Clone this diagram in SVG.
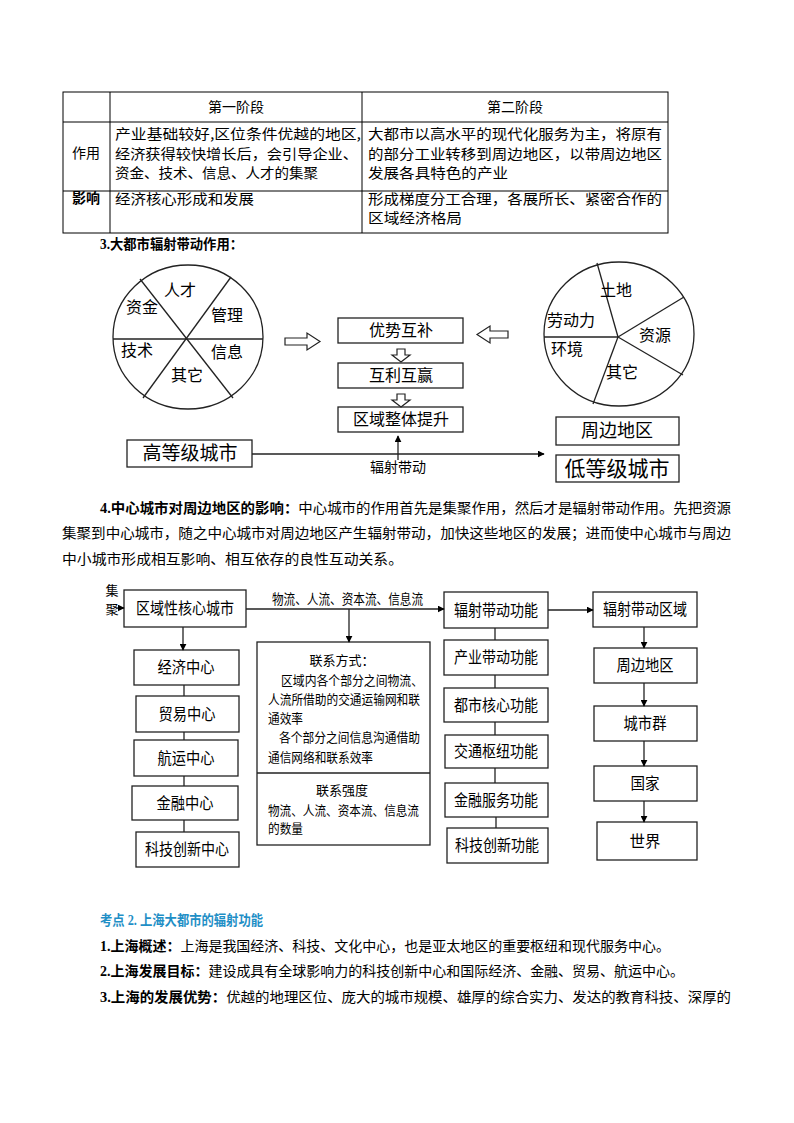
<svg xmlns="http://www.w3.org/2000/svg" width="794" height="1123" viewBox="0 0 794 1123">
<defs>
<style>
text{font-family:"Liberation Serif","Noto Sans CJK SC",serif;fill:#000;}
.t{font-size:14px;}
.b{font-weight:bold;}
.s{font-family:"Noto Sans CJK SC","Liberation Sans",sans-serif;}
.c{text-anchor:middle;}
.ln{stroke:#000;stroke-width:1;fill:none;}
.bx{fill:#fff;stroke:#222;stroke-width:1.3;}
.dl{stroke:#222;stroke-width:1.3;fill:none;}
.ha{fill:#fff;stroke:#222;stroke-width:1.2;}
.lb{font-size:16px;}
.bl{font-size:16px;}
.sm{font-size:13px;}
</style>
<marker id="ah" viewBox="0 0 10 10" refX="9" refY="5" markerWidth="7" markerHeight="7" markerUnits="userSpaceOnUse" orient="auto"><path d="M0,0 L10,5 L0,10 z" fill="#000"/></marker>
</defs>
<rect width="794" height="1123" fill="#fff"/>

<!-- Table -->
<g id="table">
<rect x="63" y="92" width="605" height="141" class="ln"/>
<line x1="110" y1="92" x2="110" y2="233" class="ln"/>
<line x1="362" y1="92" x2="362" y2="233" class="ln"/>
<line x1="63" y1="122" x2="668" y2="122" class="ln"/>
<line x1="63" y1="191" x2="668" y2="191" class="ln"/>
<text class="t s c" x="236" y="112">第一阶段</text>
<text class="t s c" x="515" y="112">第二阶段</text>
<text class="t s c" x="86" y="158">作用</text>
<text class="t s c" x="86" y="203" style="font-weight:600">影响</text>
<text class="t s" x="115" y="139" textLength="246" lengthAdjust="spacingAndGlyphs">产业基础较好,区位条件优越的地区,</text>
<text class="t s" x="115" y="159" textLength="243" lengthAdjust="spacingAndGlyphs">经济获得较快增长后，会引导企业、</text>
<text class="t s" x="115" y="178" textLength="203" lengthAdjust="spacingAndGlyphs">资金、技术、信息、人才的集聚</text>
<text class="t s" x="368" y="139" textLength="294" lengthAdjust="spacingAndGlyphs">大都市以高水平的现代化服务为主，将原有</text>
<text class="t s" x="368" y="159" textLength="294" lengthAdjust="spacingAndGlyphs">的部分工业转移到周边地区，以带周边地区</text>
<text class="t s" x="368" y="178" textLength="140" lengthAdjust="spacingAndGlyphs">发展各具特色的产业</text>
<text class="t s" x="115" y="204" textLength="139" lengthAdjust="spacingAndGlyphs">经济核心形成和发展</text>
<text class="t s" x="368" y="204" textLength="294" lengthAdjust="spacingAndGlyphs">形成梯度分工合理，各展所长、紧密合作的</text>
<text class="t s" x="368" y="223" textLength="94" lengthAdjust="spacingAndGlyphs">区域经济格局</text>
</g>

<text class="t b" x="100" y="249" textLength="143" lengthAdjust="spacingAndGlyphs">3.大都市辐射带动作用：</text>

<!-- Diagram 3 -->
<g id="pie-left">
<ellipse cx="188" cy="337" rx="75" ry="72" class="dl"/>
<line x1="113" y1="339" x2="263" y2="339" class="dl"/>
<line x1="140" y1="279" x2="233" y2="398" class="dl"/>
<line x1="231" y1="277" x2="143" y2="398" class="dl"/>
<text class="lb s c" x="180" y="296">人才</text>
<text class="lb s c" x="142" y="313">资金</text>
<text class="lb s c" x="227" y="321">管理</text>
<text class="lb s c" x="137" y="356">技术</text>
<text class="lb s c" x="227" y="358">信息</text>
<text class="lb s c" x="187" y="381">其它</text>
</g>
<g id="pie-right">
<ellipse cx="619" cy="334" rx="75" ry="72" class="dl"/>
<line x1="618" y1="337" x2="597" y2="263" class="dl"/>
<line x1="618" y1="337" x2="684" y2="297" class="dl"/>
<line x1="618" y1="337" x2="683" y2="375" class="dl"/>
<line x1="618" y1="337" x2="593" y2="404" class="dl"/>
<line x1="618" y1="337" x2="544" y2="337" class="dl"/>
<text class="lb s c" x="616" y="296">土地</text>
<text class="lb s c" x="571" y="326">劳动力</text>
<text class="lb s c" x="655" y="341">资源</text>
<text class="lb s c" x="567" y="355">环境</text>
<text class="lb s c" x="622" y="378">其它</text>
</g>
<g id="box-youshi"><rect x="338" y="318" width="125" height="25" class="bx"/><text class="lb s c" x="401" y="336">优势互补</text></g>
<g id="box-huli"><rect x="338" y="363" width="125" height="25" class="bx"/><text class="lb s c" x="401" y="381">互利互赢</text></g>
<g id="box-quyu"><rect x="338" y="407" width="125" height="25" class="bx"/><text class="lb s c" x="401" y="425">区域整体提升</text></g>
<g id="box-gaodeng"><rect x="127" y="440" width="125" height="27" class="bx"/><text class="s c" style="font-size:19px" x="190" y="460">高等级城市</text></g>
<g id="box-zhoubian1"><rect x="556" y="417" width="123" height="28" class="bx"/><text class="s c" style="font-size:18px" x="617" y="437">周边地区</text></g>
<g id="box-dideng"><rect x="556" y="455" width="123" height="27" class="bx"/><text class="s c" style="font-size:21px" x="617" y="476">低等级城市</text></g>
<g id="connectors3">
<polygon class="ha" points="285,338 307,338 307,333 320,341.5 307,350 307,345 285,345"/>
<polygon class="ha" points="508,331 490,331 490,326 477,334.5 490,343 490,338 508,338"/>
<polygon class="ha" points="397,349 405,349 405,355 410,355 401,362 392,355 397,355"/>
<polygon class="ha" points="397,394 405,394 405,400 410,400 401,407 392,400 397,400"/>
<line x1="252" y1="454" x2="544" y2="454" class="dl" marker-end="url(#ah)"/>
<line x1="398" y1="460" x2="398" y2="436" class="dl" marker-end="url(#ah)"/>
<text class="t s c" x="398" y="472">辐射带动</text>
</g>

<!-- Paragraph 4 -->
<text class="t" x="100" y="513" textLength="631" lengthAdjust="spacingAndGlyphs"><tspan class="b">4.中心城市对周边地区的影响：</tspan>中心城市的作用首先是集聚作用，然后才是辐射带动作用。先把资源</text>
<text class="t" x="62" y="538" textLength="669" lengthAdjust="spacingAndGlyphs">集聚到中心城市，随之中心城市对周边地区产生辐射带动，加快这些地区的发展；进而使中心城市与周边</text>
<text class="t" x="62" y="564" textLength="341" lengthAdjust="spacingAndGlyphs">中小城市形成相互影响、相互依存的良性互动关系。</text>

<!-- Diagram 4 -->
<g id="jiju"><text class="s c" style="font-size:13px" x="112" y="595">集</text><text class="s c" style="font-size:13px" x="112" y="614">聚</text></g>
<g id="n-hexin"><rect x="124" y="590" width="122" height="37" class="bx"/><text class="bl s c" x="185" y="614" textLength="98" lengthAdjust="spacingAndGlyphs">区域性核心城市</text></g>
<g id="n-jingji"><rect x="134" y="650" width="105" height="35" class="bx"/><text class="bl s c" x="186" y="673" textLength="57" lengthAdjust="spacingAndGlyphs">经济中心</text></g>
<g id="n-maoyi"><rect x="136" y="696" width="103" height="36" class="bx"/><text class="bl s c" x="187" y="720" textLength="57" lengthAdjust="spacingAndGlyphs">贸易中心</text></g>
<g id="n-hangyun"><rect x="134" y="740" width="104" height="36" class="bx"/><text class="bl s c" x="186" y="764" textLength="57" lengthAdjust="spacingAndGlyphs">航运中心</text></g>
<g id="n-jinrong"><rect x="132" y="786" width="106" height="34" class="bx"/><text class="bl s c" x="185" y="809" textLength="57" lengthAdjust="spacingAndGlyphs">金融中心</text></g>
<g id="n-keji"><rect x="136" y="832" width="103" height="35" class="bx"/><text class="bl s c" x="187" y="855" textLength="84" lengthAdjust="spacingAndGlyphs">科技创新中心</text></g>
<g id="n-lianxi">
<rect x="257" y="642" width="173" height="203" class="bx"/>
<line x1="257" y1="773" x2="430" y2="773" class="dl"/>
<text class="sm s c" x="342" y="665">联系方式：</text>
<text class="sm s" x="281" y="685" textLength="142" lengthAdjust="spacingAndGlyphs">区域内各个部分之间物流、</text>
<text class="sm s" x="268" y="704" textLength="152" lengthAdjust="spacingAndGlyphs">人流所借助的交通运输网和联</text>
<text class="sm s" x="268" y="723" textLength="35" lengthAdjust="spacingAndGlyphs">通效率</text>
<text class="sm s" x="279" y="742" textLength="141" lengthAdjust="spacingAndGlyphs">各个部分之间信息沟通借助</text>
<text class="sm s" x="268" y="762" textLength="105" lengthAdjust="spacingAndGlyphs">通信网络和联系效率</text>
<text class="sm s c" x="342" y="795">联系强度</text>
<text class="sm s" x="268" y="815" textLength="151" lengthAdjust="spacingAndGlyphs">物流、人流、资本流、信息流</text>
<text class="sm s" x="268" y="833" textLength="35" lengthAdjust="spacingAndGlyphs">的数量</text>
</g>
<g id="n-fushe"><rect x="444" y="592" width="104" height="36" class="bx"/><text class="bl s c" x="496" y="616" textLength="84" lengthAdjust="spacingAndGlyphs">辐射带动功能</text></g>
<g id="n-chanye"><rect x="444" y="640" width="104" height="35" class="bx"/><text class="bl s c" x="496" y="663" textLength="84" lengthAdjust="spacingAndGlyphs">产业带动功能</text></g>
<g id="n-dushi"><rect x="444" y="688" width="104" height="34" class="bx"/><text class="bl s c" x="496" y="711" textLength="84" lengthAdjust="spacingAndGlyphs">都市核心功能</text></g>
<g id="n-jiaotong"><rect x="445" y="735" width="103" height="33" class="bx"/><text class="bl s c" x="496" y="757" textLength="84" lengthAdjust="spacingAndGlyphs">交通枢纽功能</text></g>
<g id="n-jinrongfw"><rect x="445" y="783" width="103" height="34" class="bx"/><text class="bl s c" x="496" y="806" textLength="84" lengthAdjust="spacingAndGlyphs">金融服务功能</text></g>
<g id="n-kejign"><rect x="447" y="828" width="101" height="35" class="bx"/><text class="bl s c" x="497" y="851" textLength="84" lengthAdjust="spacingAndGlyphs">科技创新功能</text></g>
<g id="n-fushequ"><rect x="593" y="592" width="104" height="35" class="bx"/><text class="bl s c" x="645" y="615" textLength="84" lengthAdjust="spacingAndGlyphs">辐射带动区域</text></g>
<g id="n-zhoubian2"><rect x="594" y="648" width="103" height="35" class="bx"/><text class="bl s c" x="645" y="671" textLength="57" lengthAdjust="spacingAndGlyphs">周边地区</text></g>
<g id="n-chengshiqun"><rect x="594" y="706" width="103" height="35" class="bx"/><text class="bl s c" x="645" y="729" textLength="43" lengthAdjust="spacingAndGlyphs">城市群</text></g>
<g id="n-guojia"><rect x="594" y="766" width="103" height="35" class="bx"/><text class="bl s c" x="645" y="789" textLength="29" lengthAdjust="spacingAndGlyphs">国家</text></g>
<g id="n-shijie"><rect x="597" y="822" width="100" height="38" class="bx"/><text class="bl s c" x="645" y="847" textLength="31" lengthAdjust="spacingAndGlyphs">世界</text></g>
<g id="connectors4">
<line x1="116" y1="608" x2="124" y2="608" class="dl" marker-end="url(#ah)"/>
<line x1="246" y1="609" x2="444" y2="609" class="dl" marker-end="url(#ah)"/>
<text class="s" style="font-size:13.5px" x="272" y="604" textLength="151" lengthAdjust="spacingAndGlyphs">物流、人流、资本流、信息流</text>
<line x1="349" y1="609" x2="349" y2="642" class="dl" marker-end="url(#ah)"/>
<line x1="183" y1="627" x2="183" y2="650" class="dl" marker-end="url(#ah)"/>
<line x1="184" y1="685" x2="184" y2="696" class="dl"/>
<line x1="184" y1="732" x2="184" y2="740" class="dl"/>
<line x1="184" y1="776" x2="184" y2="786" class="dl"/>
<line x1="184" y1="820" x2="184" y2="832" class="dl"/>
<line x1="495" y1="628" x2="495" y2="640" class="dl"/>
<line x1="495" y1="675" x2="495" y2="688" class="dl"/>
<line x1="495" y1="722" x2="495" y2="735" class="dl"/>
<line x1="495" y1="768" x2="495" y2="783" class="dl"/>
<line x1="496" y1="817" x2="496" y2="828" class="dl"/>
<line x1="548" y1="610" x2="593" y2="610" class="dl" marker-end="url(#ah)"/>
<line x1="644" y1="627" x2="644" y2="648" class="dl" marker-end="url(#ah)"/>
<line x1="644" y1="683" x2="644" y2="706" class="dl" marker-end="url(#ah)"/>
<line x1="644" y1="741" x2="644" y2="766" class="dl" marker-end="url(#ah)"/>
<line x1="644" y1="801" x2="644" y2="822" class="dl" marker-end="url(#ah)"/>
</g>

<!-- Bottom text -->
<text class="t b" x="100" y="925" style="fill:#1f8fc6" textLength="163" lengthAdjust="spacingAndGlyphs">考点 2. 上海大都市的辐射功能</text>
<text class="t" x="100" y="951" textLength="570" lengthAdjust="spacingAndGlyphs"><tspan class="b">1.上海概述：</tspan>上海是我国经济、科技、文化中心，也是亚太地区的重要枢纽和现代服务中心。</text>
<text class="t" x="100" y="976" textLength="584" lengthAdjust="spacingAndGlyphs"><tspan class="b">2.上海发展目标：</tspan>建设成具有全球影响力的科技创新中心和国际经济、金融、贸易、航运中心。</text>
<text class="t" x="100" y="1002" textLength="631" lengthAdjust="spacingAndGlyphs"><tspan class="b">3.上海的发展优势：</tspan>优越的地理区位、庞大的城市规模、雄厚的综合实力、发达的教育科技、深厚的</text>
</svg>
